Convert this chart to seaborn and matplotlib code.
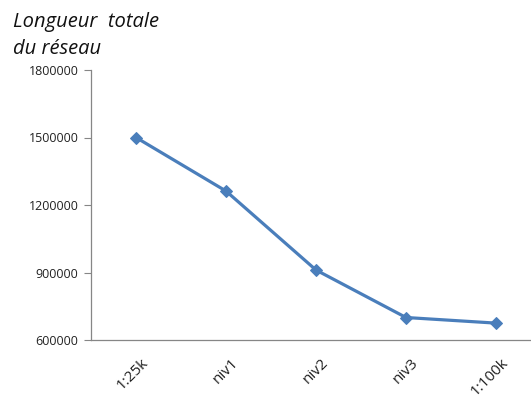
import matplotlib
matplotlib.use("Agg")
import matplotlib.pyplot as plt
import matplotlib.transforms as mtransforms
import seaborn as sns
import pandas as pd
import numpy as np

categories = ["1:25k", "niv1", "niv2", "niv3", "1:100k"]
longueur = [1500000, 1262000, 911000, 700000, 675000]
yticks = [600000, 900000, 1200000, 1500000, 1800000]

sns.set_style("white")
plt.rcParams['font.family'] = ['Open Sans', 'DejaVu Sans']

df = pd.DataFrame({"cat": categories, "val": longueur})

fig = plt.figure(figsize=(5.31, 4.03), dpi=100)
W, H = 531, 403
ax = fig.add_axes([91 / W, (H - 340) / H, 450 / W, 270 / H])

sns.lineplot(data=df, x="cat", y="val", ax=ax, color="#4A7EBB", linewidth=2.3,
             marker="D", markersize=6.5, markeredgecolor="#4A7EBB", sort=False)

ax.set_xlim(-0.5, 4.5)
ax.set_ylim(600000, 1800000)
ax.set_yticks(yticks)
ax.set_yticklabels([str(v) for v in yticks], fontsize=9, color="#222222")
ax.set_xticks(range(len(categories)))
ax.set_xticklabels(categories, fontsize=11, color="#222222")
ax.set_xticks(np.arange(-0.5, 5.0, 1.0), minor=True)
ax.tick_params(axis="x", which="major", length=0, pad=15)
ax.tick_params(axis="x", which="minor", length=5, color="#868686", width=0.8, direction="out")
ax.tick_params(axis="y", length=5, color="#868686", width=0.8, direction="out", pad=4, left=True)
offset = mtransforms.ScaledTranslation(10 / 100, 0, fig.dpi_scale_trans)
for lab in ax.get_xticklabels():
    lab.set_rotation(45)
    lab.set_rotation_mode("anchor")
    lab.set_ha("right")
    lab.set_va("center")
    lab.set_transform(lab.get_transform() + offset)

ax.set_xlabel("")
ax.set_ylabel("")
for s in ["top", "right"]:
    ax.spines[s].set_visible(False)
for s in ["left", "bottom"]:
    ax.spines[s].set_color("#868686")
    ax.spines[s].set_linewidth(0.9)
ax.grid(False)

fig.text(13 / W, 1 - 27 / H, "Longueur  totale", fontsize=14.5, style="italic",
         ha="left", va="baseline", color="#111111")
fig.text(13 / W, 1 - 54 / H, "du réseau", fontsize=14.5, style="italic",
         ha="left", va="baseline", color="#111111")

fig.savefig("out.png", dpi=100)
